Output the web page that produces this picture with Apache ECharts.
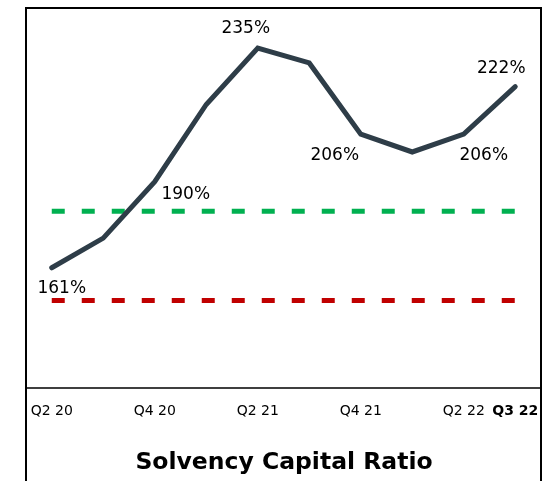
<!DOCTYPE html>
<html>
<head>
<meta charset="utf-8">
<script src="https://cdn.jsdelivr.net/npm/echarts@6/dist/echarts.min.js"></script>
<style>
html,body{margin:0;padding:0;background:#fff;}
#c{width:554px;height:481px;}
</style>
</head>
<body>
<div id="c"></div>
<script>
const categories = ['Q2 20','Q3 20','Q4 20','Q1 21','Q2 21','Q3 21','Q4 21','Q1 22','Q2 22','Q3 22'];
const scrValues = [161, 171, 190, 216, 235, 230, 206, 200, 206, 222];
const targetValues = [180, 180, 180, 180, 180, 180, 180, 180, 180, 180];
const minimumValues = [150, 150, 150, 150, 150, 150, 150, 150, 150, 150];
const labelledIndices = [0, 2, 4, 6, 8, 9];
const titleText = 'Solvency Capital Ratio';

// label placement (text centre relative to the point), layout only
const labelOffsets = {0:[10,21], 2:[31,13], 4:[-12,-20], 6:[-26,21], 8:[20,21], 9:[-14,-18]};

const FONT = 'DejaVu Sans';
const chart = echarts.init(document.getElementById('c'), null, {renderer:'canvas'});

const scrData = scrValues.map((v, i) => {
  if (labelledIndices.indexOf(i) < 0) return v;
  const off = labelOffsets[i];
  return {value: v, label: {show: true, position: 'inside', offset: off}};
});

chart.setOption({
  animation: false,
  grid: {left: 26, right: 13, top: 8, bottom: 93, containLabel: false},
  xAxis: {
    type: 'category',
    data: categories,
    boundaryGap: true,
    axisLine: {show: true, lineStyle: {color: '#000', width: 1.5}},
    axisTick: {show: false},
    axisLabel: {
      interval: function (i) { return i % 2 === 0 || i === categories.length - 1; },
      margin: 16,
      fontFamily: FONT, fontSize: 14, color: '#000',
      formatter: function (v, i) { return i === categories.length - 1 ? '{b|' + v + '}' : v; },
      rich: {b: {fontFamily: FONT, fontSize: 14, fontWeight: 'bold', color: '#000'}}
    },
    splitLine: {show: false}
  },
  yAxis: {
    type: 'value', min: 120.5, max: 248.5,
    show: false, splitLine: {show: false}
  },
  series: [
    {
      type: 'line', data: minimumValues, symbol: 'none', z: 1,
      lineStyle: {color: '#c00000', width: 5, type: [13, 17], cap: 'butt'}
    },
    {
      type: 'line', data: targetValues, symbol: 'none', z: 1,
      lineStyle: {color: '#00b050', width: 5, type: [13, 17], cap: 'butt'}
    },
    {
      type: 'line', data: scrData, z: 3,
      symbol: 'circle', symbolSize: 1, showSymbol: true,
      itemStyle: {color: '#2e3d48'},
      lineStyle: {color: '#2e3d48', width: 5, cap: 'round', join: 'miter'},
      label: {show: false, fontFamily: FONT, fontSize: 17, color: '#000',
              formatter: function (p) { return p.value + '%'; }}
    }
  ],
  graphic: [
    {type: 'rect', shape: {x: 26, y: 8, width: 515, height: 480},
     style: {fill: 'none', stroke: '#000', lineWidth: 2}, z: 10},
    {type: 'text', x: 284, y: 463,
     style: {text: titleText, font: 'bold 23.5px "DejaVu Sans"', fill: '#000',
             textAlign: 'center', textVerticalAlign: 'middle'}, z: 10}
  ]
});
</script>
</body>
</html>
